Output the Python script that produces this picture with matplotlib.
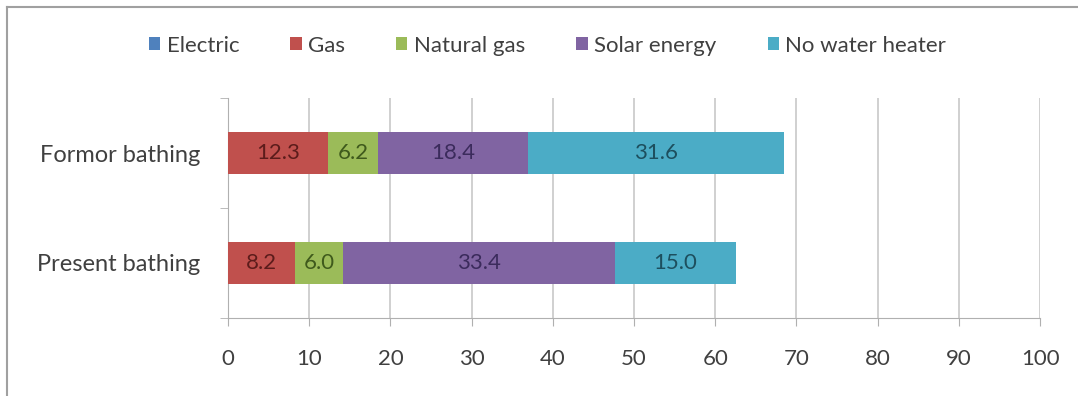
# bathing water heater share, former vs present

import numpy as np
from matplotlib import pyplot as plt
from matplotlib.lines import Line2D

plt.rcParams['font.family'] = ['Lato', 'DejaVu Sans']

categories = ['Present bathing', 'Formor bathing']
series = ['Electric', 'Gas', 'Natural gas', 'Solar energy', 'No water heater']
electric = [0.0, 0.0]
gas = [8.2, 12.3]
natural_gas = [6.0, 6.2]
solar = [33.4, 18.4]
no_heater = [15.0, 31.6]

colors = ['#4F81BD', '#C0504D', '#9BBB59', '#8064A2', '#4BACC6']
label_colors = [None, '#5c1c1b', '#3f5a1c', '#3b2b5c', '#1d4f5e']

fig = plt.figure(figsize=(10.78, 3.96), dpi=100)
ax = fig.add_axes([0.2115, 0.197, 0.7533, 0.5555])

y = np.arange(len(categories))
left = np.zeros(len(categories))
for name, vals, c, lc in zip(series, [electric, gas, natural_gas, solar, no_heater],
                             colors, label_colors):
    vals = np.array(vals)
    bars = ax.barh(y, vals, left=left, height=0.39, color=c, label=name, zorder=3)
    if lc is not None:
        ax.bar_label(bars, labels=['%.1f' % v for v in vals], label_type='center',
                     color=lc, fontsize=16)
    left += vals

ax.set_xlim(0, 100)
ax.set_ylim(-0.5, 1.5)
ax.set_xticks(np.arange(0, 101, 10))
ax.set_yticks(y)
ax.set_yticklabels(categories)
ax.set_yticks([-0.5, 0.5, 1.5], minor=True)
ax.tick_params(axis='y', which='major', length=0, pad=20, labelsize=17, labelcolor='#404040')
ax.tick_params(axis='y', which='minor', length=6, color='#b0b0b0', direction='out')
ax.tick_params(axis='x', length=6, color='#b0b0b0', direction='out', pad=16,
               labelsize=16, labelcolor='#404040')
ax.xaxis.grid(True, color='#c8c8c8', lw=1.2, zorder=0)
for s in ['top', 'right']:
    ax.spines[s].set_visible(False)
for s in ['left', 'bottom']:
    ax.spines[s].set_color('#b0b0b0')

handles, labels = ax.get_legend_handles_labels()
fig.legend(handles, labels, loc='center', bbox_to_anchor=(0.508, 0.885), ncol=5,
           frameon=False, fontsize=16, handlelength=0.5, handleheight=0.5,
           handletextpad=0.3, columnspacing=2.3, labelcolor='#404040')

# outer frame (top and left edges)
fig.add_artist(Line2D([0.0065, 1.0], [0.982, 0.982], transform=fig.transFigure,
                      color='#a0a0a0', lw=1.5))
fig.add_artist(Line2D([0.0065, 0.0065], [0.0, 0.982], transform=fig.transFigure,
                      color='#a0a0a0', lw=1.5))

plt.savefig('out.png', dpi=100)
